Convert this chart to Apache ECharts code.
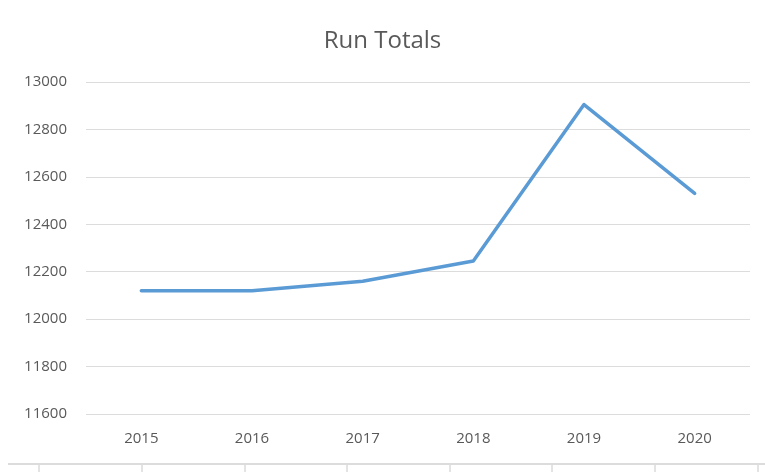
<!DOCTYPE html>
<html>
<head>
<meta charset="utf-8">
<script src="https://cdn.jsdelivr.net/npm/echarts@6/dist/echarts.min.js"></script>
<style>
  html, body { margin: 0; padding: 0; background: #fff; }
  #chart { width: 765px; height: 472px; }
</style>
</head>
<body>
<div id="chart"></div>
<script>
const years = ['2015', '2016', '2017', '2018', '2019', '2020'];
const runTotals = [12120, 12120, 12160, 12245, 12905, 12530];
const yTicks = [11600, 13000, 200]; // min, max, step

const chart = echarts.init(document.getElementById('chart'));
const txt = '#595959';

// spreadsheet cell border strip under the chart
const cellCols = [39, 142, 245, 347, 450, 552, 655, 758];
const strip = [{
  type: 'line', shape: { x1: 8, y1: 464, x2: 765, y2: 464 },
  style: { stroke: '#d0d0d0', lineWidth: 1.5 }
}].concat(cellCols.map(x => ({
  type: 'line', shape: { x1: x, y1: 465, x2: x, y2: 472 },
  style: { stroke: '#c8c8c8', lineWidth: 1 }
})));

chart.setOption({
  animation: false,
  title: {
    text: 'Run Totals',
    left: 'center',
    top: 24,
    textStyle: { fontFamily: 'Open Sans', fontSize: 24, fontWeight: 'normal', color: txt }
  },
  grid: { left: 86, right: 15, top: 82, bottom: 58 },
  xAxis: {
    type: 'category',
    data: years,
    boundaryGap: true,
    axisLine: { show: false },
    axisTick: { show: false },
    axisLabel: { color: txt, fontFamily: 'Open Sans', fontSize: 15, margin: 17 }
  },
  yAxis: {
    type: 'value',
    min: yTicks[0],
    max: yTicks[1],
    interval: yTicks[2],
    axisLine: { show: false },
    axisTick: { show: false },
    axisLabel: { color: txt, fontFamily: 'Open Sans', fontSize: 15, margin: 19, formatter: v => String(v) },
    splitLine: { lineStyle: { color: '#dcdcdc', width: 1 } }
  },
  series: [{
    type: 'line',
    data: runTotals,
    symbol: 'none',
    lineStyle: { color: '#5b9bd5', width: 3.5, cap: 'round', join: 'round' }
  }],
  graphic: strip
});
</script>
</body>
</html>
